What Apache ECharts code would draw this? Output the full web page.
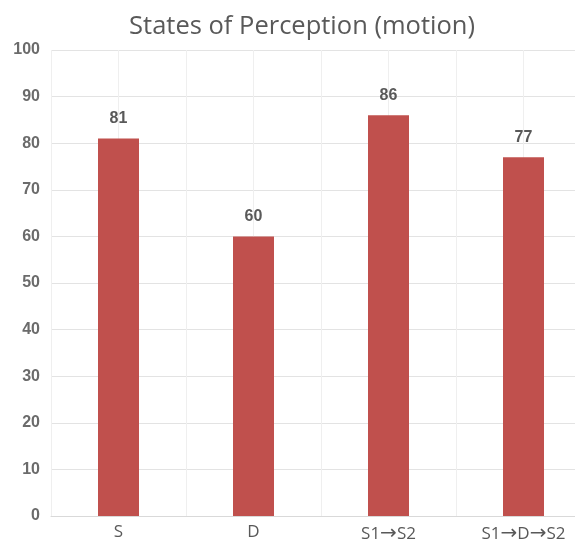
<!DOCTYPE html>
<html>
<head>
<meta charset="utf-8">
<script src="https://cdn.jsdelivr.net/npm/echarts@6/dist/echarts.min.js"></script>
<style>
  html, body { margin: 0; padding: 0; background: #ffffff; overflow: hidden; }
  /* the plot area runs a little past the visible right edge */
  #chart { width: 600px; height: 541px; }
</style>
</head>
<body>
<div id="chart"></div>
<script>
// Perception states and their scores
const categories = ['S', 'D', 'S1\u2192S2', 'S1\u2192D\u2192S2'];
const scores = [81, 60, 86, 77];
const yTicks = { min: 0, max: 100, step: 10 };

const chart = echarts.init(document.getElementById('chart'));

const gridBox = { left: 51, top: 50, width: 540, height: 466, outerBoundsMode: 'none', containLabel: false };

chart.setOption({
  backgroundColor: '#ffffff',
  animation: false,
  title: {
    text: 'States of Perception (motion)',
    left: 297,
    textAlign: 'center',
    top: 9,
    textStyle: {
      fontFamily: 'Open Sans',
      fontSize: 25.5,
      fontWeight: 'normal',
      color: '#595959'
    }
  },
  grid: gridBox,
  xAxis: [
    {
      type: 'category',
      data: categories,
      axisLine: { show: true, lineStyle: { color: '#d9d9d9', width: 1 } },
      axisTick: { show: false },
      splitLine: { show: false },
      axisLabel: {
        interval: 0,
        color: '#595959',
        fontFamily: 'Open Sans',
        fontSize: 17,
        margin: 8,
        formatter: (v) => v.replace(/\u2192/g, '{a|\u2192}'),
        rich: {
          a: { fontFamily: 'DejaVu Sans', fontSize: 20, color: '#595959' }
        }
      }
    },
    {
      // half-category guides: vertical lines at each centre and boundary
      type: 'value',
      position: 'bottom',
      min: 0,
      max: categories.length * 2,
      interval: 1,
      axisLine: { show: false },
      axisTick: { show: false },
      axisLabel: { show: false },
      splitLine: { show: true, lineStyle: { color: '#efefef', width: 1 } }
    }
  ],
  yAxis: {
    type: 'value',
    min: yTicks.min,
    max: yTicks.max,
    interval: yTicks.step,
    axisLine: { show: false },
    axisTick: { show: false },
    axisLabel: {
      color: '#6b6b6b',
      fontFamily: 'Liberation Sans',
      fontWeight: 'bold',
      fontSize: 16,
      margin: 11
    },
    splitLine: { show: true, lineStyle: { color: '#e3e3e3', width: 1 } }
  },
  series: [
    {
      type: 'bar',
      xAxisIndex: 0,
      data: scores,
      barWidth: 41,
      itemStyle: { color: '#c0504d' },
      label: {
        show: true,
        position: 'top',
        distance: 12,
        color: '#595959',
        fontFamily: 'Liberation Sans',
        fontWeight: 'bold',
        fontSize: 16
      }
    }
  ]
});
</script>
</body>
</html>
